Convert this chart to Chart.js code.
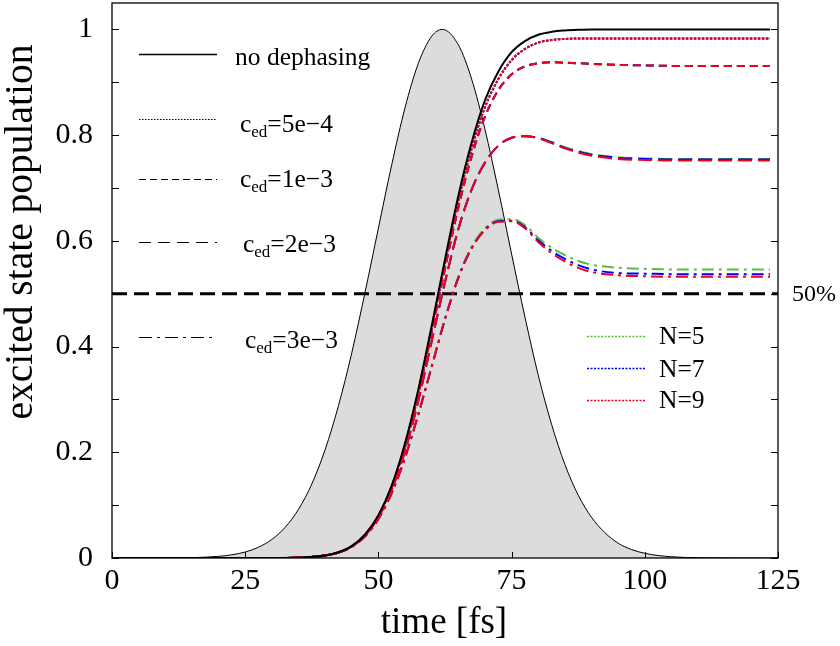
<!DOCTYPE html>
<html><head><meta charset="utf-8">
<script src="https://cdn.jsdelivr.net/npm/chart.js@4.4.0/dist/chart.umd.min.js"></script>
<style>html,body{margin:0;padding:0;background:#fff}#wrap{width:840px;height:646px}</style>
</head><body><div id="wrap"><canvas id="c" width="840" height="646"></canvas></div>
<script>
// ---------- data ----------
const xTickValues = [0, 25, 50, 75, 100, 125];
const yTickValues = [0, 0.2, 0.4, 0.6, 0.8, 1];
const yTickLabels = ['0', '0.2', '0.4', '0.6', '0.8', '1'];
const yMinorTicks = [0, 0.1, 0.2, 0.3, 0.4, 0.5, 0.6, 0.7, 0.8, 0.9, 1.0];
const refLevel = [0.5, 0.5];
const refTime = [0, 125];
const refLabel = '50%';

const pulseTime = [0, 10, 15, 20, 22.5, 25, 27.5, 30, 32.5, 35, 37.5, 40, 42.5, 45, 47.5, 50, 52.5, 55, 57.5, 60, 62, 65, 67.5, 70, 72.5, 75, 77.5, 80, 82.5, 85, 87.5, 90, 92.5, 95, 97.5, 100, 102.5, 105, 110, 125];
const pulseValues = [0, 0.0001, 0.0007, 0.0031, 0.0061, 0.0113, 0.0204, 0.0351, 0.058, 0.092, 0.140, 0.205, 0.288, 0.388, 0.503, 0.624, 0.744, 0.852, 0.936, 0.987, 1.0, 0.971, 0.906, 0.811, 0.697, 0.575, 0.456, 0.346, 0.253, 0.177, 0.119, 0.077, 0.048, 0.028, 0.016, 0.0089, 0.0047, 0.0024, 0.0005, 0];

const popTime = [0, 20, 30, 35, 40, 42.5, 45, 47.5, 50, 52.5, 55, 57.5, 60, 62.5, 65, 67.5, 70, 72.5, 75, 77.5, 80, 82.5, 85, 87.5, 90, 95, 100, 105, 110, 115, 120, 123.5];
const noDephasing = [0, 0, 0, 0.0008, 0.0048, 0.0108, 0.0226, 0.0445, 0.081, 0.137, 0.217, 0.319, 0.439, 0.565, 0.685, 0.786, 0.866, 0.920, 0.957, 0.978, 0.990, 0.9955, 0.998, 0.9993, 1, 1, 1, 1, 1, 1, 1, 1];
const ced5e4 = [0, 0, 0, 0.0008, 0.0048, 0.0107, 0.0224, 0.044, 0.080, 0.135, 0.214, 0.315, 0.434, 0.558, 0.676, 0.775, 0.853, 0.906, 0.942, 0.963, 0.975, 0.980, 0.982, 0.983, 0.983, 0.983, 0.983, 0.983, 0.983, 0.983, 0.983, 0.983];
const ced1e3 = [0, 0, 0, 0.0008, 0.0047, 0.0106, 0.0222, 0.0435, 0.079, 0.133, 0.21, 0.31, 0.427, 0.548, 0.663, 0.76, 0.835, 0.885, 0.915, 0.93, 0.936, 0.938, 0.937, 0.936, 0.935, 0.933, 0.932, 0.931, 0.931, 0.931, 0.931, 0.931];
const ced2e3_N5 = [0, 0, 0, 0.0008, 0.0046, 0.0104, 0.0218, 0.0425, 0.077, 0.129, 0.203, 0.298, 0.41, 0.522, 0.622, 0.697, 0.748, 0.78, 0.795, 0.798, 0.795, 0.787, 0.777, 0.770, 0.764, 0.758, 0.756, 0.755, 0.755, 0.755, 0.755, 0.755];
const ced2e3_N7 = [0, 0, 0, 0.0008, 0.0046, 0.0104, 0.0218, 0.0425, 0.077, 0.129, 0.203, 0.298, 0.41, 0.522, 0.622, 0.697, 0.748, 0.78, 0.795, 0.798, 0.795, 0.786, 0.776, 0.769, 0.763, 0.757, 0.755, 0.754, 0.754, 0.754, 0.754, 0.754];
const ced2e3_N9 = [0, 0, 0, 0.0008, 0.0046, 0.0104, 0.0218, 0.0425, 0.077, 0.129, 0.203, 0.298, 0.41, 0.522, 0.622, 0.697, 0.748, 0.78, 0.795, 0.798, 0.794, 0.785, 0.775, 0.767, 0.761, 0.755, 0.753, 0.752, 0.752, 0.752, 0.752, 0.752];
const ced3e3_N5 = [0, 0, 0, 0.0008, 0.0045, 0.0101, 0.021, 0.041, 0.074, 0.123, 0.19, 0.272, 0.362, 0.452, 0.532, 0.589, 0.624, 0.640, 0.641, 0.630, 0.606, 0.587, 0.573, 0.562, 0.555, 0.549, 0.547, 0.546, 0.546, 0.546, 0.546, 0.546];
const ced3e3_N7 = [0, 0, 0, 0.0008, 0.0045, 0.0101, 0.021, 0.041, 0.074, 0.123, 0.19, 0.272, 0.362, 0.452, 0.530, 0.586, 0.621, 0.637, 0.638, 0.626, 0.601, 0.581, 0.566, 0.554, 0.546, 0.539, 0.538, 0.537, 0.537, 0.537, 0.537, 0.537];
const ced3e3_N9 = [0, 0, 0, 0.0008, 0.0045, 0.0101, 0.021, 0.041, 0.074, 0.123, 0.19, 0.272, 0.362, 0.452, 0.530, 0.586, 0.620, 0.636, 0.637, 0.624, 0.598, 0.577, 0.561, 0.549, 0.541, 0.535, 0.533, 0.532, 0.532, 0.532, 0.532, 0.532];

const nLabels = ['N=5', 'N=7', 'N=9'];
const cedLabels = ['5e\u22124', '1e\u22123', '2e\u22123', '3e\u22123'];
const noDephLabel = 'no dephasing';
const xTitle = 'time [fs]';
const yTitle = 'excited state population';

// ---------- styles ----------
const FONT = '"Liberation Serif", "Times New Roman", serif';
const nColors = ['rgb(90,190,60)', 'rgb(0,0,240)', 'rgb(240,0,30)'];
const cedDash = [[2.5, 1.5], [8, 5], [14, 6], [12, 5, 3, 5]];
const legDash = [[1.5, 1.5], [7, 4], [12, 7], [13, 5, 3, 5]];

const pts = (xs, ys) => xs.map((x, i) => ({x: x, y: ys[i]}));

const datasets = [];
datasets.push({data: pts(pulseTime, pulseValues), borderColor: '#000', borderWidth: 1, backgroundColor: '#dcdcdc', fill: 'origin', order: 100});
datasets.push({data: pts(refTime, refLevel), borderColor: '#000', borderWidth: 3, borderDash: [15, 7], fill: false, order: 50});
const cedSeries = [
  [ced5e4, ced5e4, ced5e4],
  [ced1e3, ced1e3, ced1e3],
  [ced2e3_N5, ced2e3_N7, ced2e3_N9],
  [ced3e3_N5, ced3e3_N7, ced3e3_N9]
];
cedSeries.forEach((group, gi) => {
  group.forEach((arr, ni) => {
    datasets.push({data: pts(popTime, arr), borderColor: nColors[ni], borderWidth: 2, borderDash: cedDash[gi], fill: false, order: 40 - ni * 10 - gi});
  });
});
datasets.push({data: pts(popTime, noDephasing), borderColor: '#000', borderWidth: 2, fill: false, order: 1});

const decor = {
  id: 'decor',
  afterDraw(chart) {
    const ctx = chart.ctx;
    const a = chart.chartArea;
    const xs = chart.scales.x, ys = chart.scales.y;
    ctx.save();
    // frame
    ctx.strokeStyle = '#000';
    ctx.lineWidth = 1.3;
    ctx.setLineDash([]);
    ctx.strokeRect(a.left, a.top, a.right - a.left, a.bottom - a.top);
    // inward ticks
    ctx.lineWidth = 1;
    ctx.beginPath();
    yMinorTicks.forEach(v => {
      const py = Math.round(ys.getPixelForValue(v)) + 0.5;
      ctx.moveTo(a.left, py); ctx.lineTo(a.left + 7, py);
      ctx.moveTo(a.right, py); ctx.lineTo(a.right - 7, py);
    });
    xTickValues.forEach(v => {
      const px = Math.round(xs.getPixelForValue(v)) + 0.5;
      ctx.moveTo(px, a.bottom); ctx.lineTo(px, a.bottom - 6);
    });
    ctx.stroke();

    // right-hand reference label
    ctx.fillStyle = '#000';
    ctx.font = '24px ' + FONT;
    ctx.textAlign = 'left';
    ctx.textBaseline = 'middle';
    ctx.fillText(refLabel, a.right + 14, ys.getPixelForValue(refLevel[0]) + 1);

    // legend (left)
    ctx.textBaseline = 'alphabetic';
    const lx0 = 139, lx1 = 217;
    ctx.lineWidth = 1.5;
    ctx.beginPath(); ctx.moveTo(lx0, 54.5); ctx.lineTo(lx1, 54.5); ctx.stroke();
    ctx.font = '25.5px ' + FONT;
    ctx.fillText(noDephLabel, 235, 65);
    const legY = [119, 179, 242, 337];
    const txtX = [240, 240, 243, 245];
    const txtB = [132, 187, 252, 348];
    ctx.lineWidth = 1.2;
    cedLabels.forEach((lab, i) => {
      ctx.setLineDash(legDash[i]);
      ctx.beginPath(); ctx.moveTo(lx0, legY[i] + 0.5); ctx.lineTo(lx1, legY[i] + 0.5); ctx.stroke();
      ctx.setLineDash([]);
      let x = txtX[i];
      ctx.font = '25.5px ' + FONT;
      ctx.fillText('c', x, txtB[i]);
      x += ctx.measureText('c').width;
      ctx.font = '17px ' + FONT;
      ctx.fillText('ed', x, txtB[i] + 5);
      x += ctx.measureText('ed').width;
      ctx.font = '25.5px ' + FONT;
      ctx.fillText('=' + lab, x, txtB[i]);
    });
    // legend (N)
    const nY = [336, 368, 400];
    const nB = [344, 377, 408];
    ctx.lineWidth = 1.5;
    nLabels.forEach((lab, i) => {
      ctx.strokeStyle = nColors[i];
      ctx.setLineDash([2, 1.5]);
      ctx.beginPath(); ctx.moveTo(587, nY[i] + 0.5); ctx.lineTo(646, nY[i] + 0.5); ctx.stroke();
      ctx.setLineDash([]);
      ctx.fillStyle = '#000';
      ctx.font = '25.5px ' + FONT;
      ctx.fillText(lab, 659, nB[i]);
    });

    // axis titles
    ctx.fillStyle = '#000';
    ctx.font = '37px ' + FONT;
    ctx.textAlign = 'center';
    ctx.fillText(xTitle, 444, 633);
    ctx.save();
    ctx.translate(32, 232);
    ctx.rotate(-Math.PI / 2);
    ctx.font = '39.5px ' + FONT;
    ctx.fillText(yTitle, 0, 0);
    ctx.restore();
    ctx.restore();
  }
};

const tickFont = {family: FONT, size: 30};
new Chart(document.getElementById('c'), {
  type: 'line',
  data: {datasets: datasets},
  options: {
    responsive: false,
    animation: false,
    devicePixelRatio: 1,
    elements: {point: {radius: 0}, line: {cubicInterpolationMode: 'monotone'}},
    layout: {padding: {top: 3, left: 0, right: 62, bottom: 0}},
    plugins: {legend: {display: false}, tooltip: {enabled: false}},
    scales: {
      x: {
        type: 'linear', position: 'bottom', min: 0, max: 125,
        afterBuildTicks: s => { s.ticks = xTickValues.map(v => ({value: v})); },
        ticks: {font: tickFont, color: '#000', padding: 5, maxRotation: 0, autoSkip: false, callback: v => String(v)},
        grid: {display: false, drawTicks: false},
        border: {display: false},
        afterFit: s => { s.height = 88; s.paddingLeft = 0; s.paddingRight = 0; }
      },
      y: {
        type: 'linear', position: 'left', min: 0, max: 1.05,
        afterBuildTicks: s => { s.ticks = yTickValues.map(v => ({value: v})); },
        ticks: {font: tickFont, color: '#000', padding: 19, autoSkip: false, callback: (v) => yTickLabels[yTickValues.indexOf(v)]},
        grid: {display: false, drawTicks: false},
        border: {display: false},
        afterFit: s => { s.width = 112; s.paddingTop = 0; s.paddingBottom = 0; }
      }
    }
  },
  plugins: [decor]
});
</script>
</body></html>
